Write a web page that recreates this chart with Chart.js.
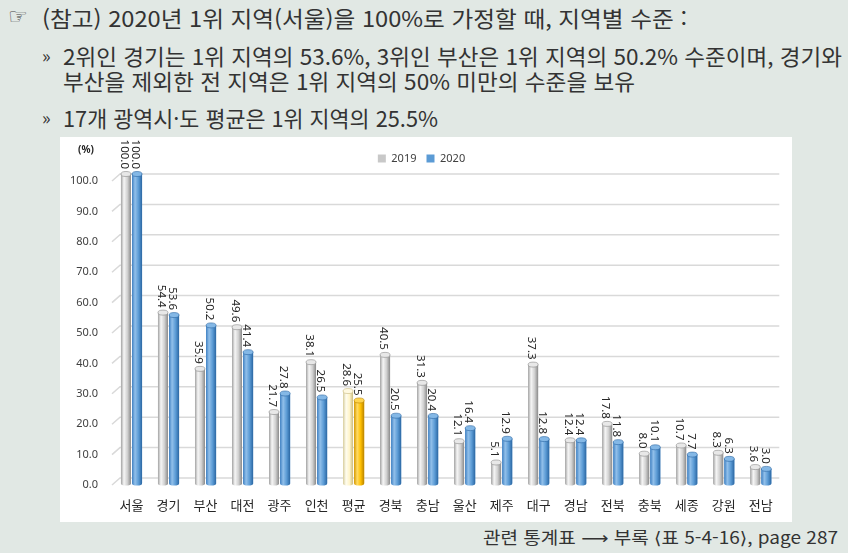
<!DOCTYPE html>
<html lang="ko">
<head>
<meta charset="utf-8">
<script src="https://cdn.jsdelivr.net/npm/chart.js@4.4.1/dist/chart.umd.min.js"></script>
<style>
  html, body { margin: 0; padding: 0; }
  body {
    width: 848px; height: 553px; position: relative; overflow: hidden;
    background: #e1e8e4; color: #333;
    font-family: "Noto Sans CJK KR", "Noto Sans", sans-serif;
  }
  .txt { position: absolute; white-space: nowrap; font-size: 22px; line-height: 22px; transform-origin: 0 50%; }
  .mark { position: absolute; font-size: 18px; line-height: 20px; color: #444; }
  #box { position: absolute; left: 60px; top: 137px; width: 732px; height: 385px; background: #fff; }
  #footer { font-size: 17px; line-height: 18px; }
  .br { font-family: "DejaVu Sans"; }
</style>
</head>
<body>
<div class="mark" style="left:8px;top:6px;font-family:'DejaVu Sans';font-size:22px;line-height:22px;">☞</div>
<div class="txt fit" data-w="645" style="left:42px;top:6px;">(참고) 2020년 1위 지역(서울)을 100%로 가정할 때, 지역별 수준 :</div>
<div class="mark" style="left:42px;top:45px;color:#333;">»</div>
<div class="txt fit" data-w="779" style="left:63px;top:44px;">2위인 경기는 1위 지역의 53.6%, 3위인 부산은 1위 지역의 50.2% 수준이며, 경기와</div>
<div class="txt fit" data-w="572" style="left:63px;top:69px;">부산을 제외한 전 지역은 1위 지역의 50% 미만의 수준을 보유</div>
<div class="mark" style="left:42px;top:107px;color:#333;">»</div>
<div class="txt fit" data-w="375" style="left:63px;top:106px;">17개 광역시·도 평균은 1위 지역의 25.5%</div>

<div id="box"><canvas id="chart" width="732" height="385"></canvas></div>

<div id="footer" class="txt fit" data-w="355" style="left:483px;top:528px;">관련 통계표 <span class="br">⟶</span> 부록 <span class="br">⟨</span>표 5-4-16<span class="br">⟩</span>, page 287</div>

<script>
// data
const categories = ["서울", "경기", "부산", "대전", "광주", "인천", "평균", "경북", "충남",
  "울산", "제주", "대구", "경남", "전북", "충북", "세종", "강원", "전남"];
const values2019 = [100.0, 54.4, 35.9, 49.6, 21.7, 38.1, 28.6, 40.5, 31.3,
  12.1, 5.1, 37.3, 12.4, 17.8, 8.0, 10.7, 8.3, 3.6];
const values2020 = [100.0, 53.6, 50.2, 41.4, 27.8, 26.5, 25.5, 20.5, 20.4,
  16.4, 12.9, 12.8, 12.4, 11.8, 10.1, 7.7, 6.3, 3.0];
const seriesNames = ["2019", "2020"];
const unitLabel = "(%)";
const averageName = "평균";

// squeeze header lines to the width they take in the original
function fitLines() {
  document.querySelectorAll(".fit").forEach((el) => {
    el.style.transform = "none";
    let w = el.getBoundingClientRect().width;
    el.style.transform = `scaleX(${el.dataset.w / w})`;
  });
}
fitLines();
if (document.fonts) document.fonts.ready.then(fitLines);

// cylinder shading: [left, highlight, body, right edge, cap]
const shades = {
  grey: ["#a2a2a2", "#f6f6f6", "#d0d0d0", "#8a8a8a", "#e8e8e8"],
  blue: ["#3f80c2", "#92c0ea", "#5b9bd5", "#2b67a3", "#84b8e6"],
  cream: ["#d6cc9c", "#fffdf0", "#fff4c8", "#c9bb82", "#fff9e0"],
  gold: ["#d29500", "#ffdc66", "#ffc000", "#b98300", "#ffd54f"],
};
function shadeFor(ds, i) {
  let avg = categories[i] === averageName;
  if (ds === 0) return avg ? shades.cream : shades.grey;
  return avg ? shades.gold : shades.blue;
}

// back wall grid lines with the little 3d slant at the left
const wallGrid = {
  id: "wallGrid",
  beforeDatasetsDraw(chart) {
    let { ctx, chartArea, scales } = chart;
    ctx.save();
    ctx.strokeStyle = "#d9d9d9";
    ctx.lineWidth = 1.5;
    scales.y.ticks.forEach((t) => {
      let y = scales.y.getPixelForValue(t.value);
      ctx.beginPath();
      ctx.moveTo(chartArea.left - 1, y + 7);
      ctx.lineTo(chartArea.left + 7, y);
      ctx.lineTo(chartArea.right, y);
      ctx.stroke();
    });
    ctx.restore();
  },
};

// redraw bars as cylinders and put rotated value labels on top
const cylinders = {
  id: "cylinders",
  afterDatasetsDraw(chart) {
    let ctx = chart.ctx;
    chart.data.datasets.forEach((dataset, d) => {
      let meta = chart.getDatasetMeta(d);
      meta.data.forEach((bar, i) => {
        let { x, y, base, width } = bar.getProps(["x", "y", "base", "width"], true);
        let c = shadeFor(d, i);
        let l = x - width / 2;
        let g = ctx.createLinearGradient(l, 0, l + width, 0);
        g.addColorStop(0, c[0]);
        g.addColorStop(0.3, c[1]);
        g.addColorStop(0.65, c[2]);
        g.addColorStop(1, c[3]);
        ctx.save();
        ctx.fillStyle = g;
        ctx.beginPath();
        ctx.moveTo(l, y);
        ctx.lineTo(l, base);
        ctx.ellipse(x, base, width / 2, 2, 0, Math.PI, 0, true);
        ctx.lineTo(l + width, y);
        ctx.closePath();
        ctx.fill();
        ctx.beginPath();
        ctx.ellipse(x, y, width / 2, 2.5, 0, 0, Math.PI * 2);
        ctx.fillStyle = c[4];
        ctx.fill();
        ctx.strokeStyle = c[3];
        ctx.lineWidth = 0.6;
        ctx.stroke();

        // value label, reading top to bottom
        ctx.translate(x - 1.5, y - 5);
        ctx.rotate(Math.PI / 2);
        ctx.font = "11.5px 'Noto Sans'";
        ctx.fillStyle = "#262626";
        ctx.textAlign = "right";
        ctx.textBaseline = "middle";
        ctx.fillText(dataset.data[i].toFixed(1), 0, 0);
        ctx.restore();
      });
    });
    // unit label
    ctx.save();
    ctx.font = "bold 10px 'Noto Sans'";
    ctx.fillStyle = "#262626";
    ctx.textAlign = "center";
    ctx.textBaseline = "middle";
    ctx.fillText(unitLabel, 26, 13);
    ctx.restore();
  },
};

const ctx = document.getElementById("chart").getContext("2d");
const chart = new Chart(ctx, {
  type: "bar",
  data: {
    labels: categories,
    datasets: [
      {
        label: seriesNames[0],
        data: values2019,
        backgroundColor: categories.map((c) => (c === averageName ? "#fff4c8" : "#c8c8c8")),
        base: -1.8,
        clip: false,
      },
      {
        label: seriesNames[1],
        data: values2020,
        backgroundColor: categories.map((c) => (c === averageName ? "#ffc000" : "#5b9bd5")),
        base: -1.8,
        clip: false,
      },
    ],
  },
  options: {
    responsive: false,
    animation: false,
    layout: { padding: { top: 6, right: 9, left: 0, bottom: 0 } },
    datasets: { bar: { barPercentage: 0.9, categoryPercentage: 0.6 } },
    plugins: {
      tooltip: { enabled: false },
      legend: {
        position: "top",
        labels: {
          boxWidth: 8,
          boxHeight: 8,
          padding: 10,
          color: "#404040",
          font: { family: "'Noto Sans'", size: 11 },
        },
      },
    },
    scales: {
      x: {
        grid: { display: false, drawTicks: false },
        border: { display: false },
        ticks: {
          padding: 19,
          color: "#262626",
          font: { family: "'Noto Sans CJK KR'", size: 13 },
        },
        afterFit(s) { s.height = 44; },
      },
      y: {
        min: 0,
        max: 100,
        grid: { display: false, drawTicks: false },
        border: { display: false },
        ticks: {
          stepSize: 10,
          padding: 15,
          labelOffset: 7,
          color: "#404040",
          font: { family: "'Noto Sans'", size: 11 },
          callback: (v) => v.toFixed(1),
        },
        afterFit(s) { s.width = 53; },
      },
    },
  },
  plugins: [wallGrid, cylinders],
});
</script>
</body>
</html>
